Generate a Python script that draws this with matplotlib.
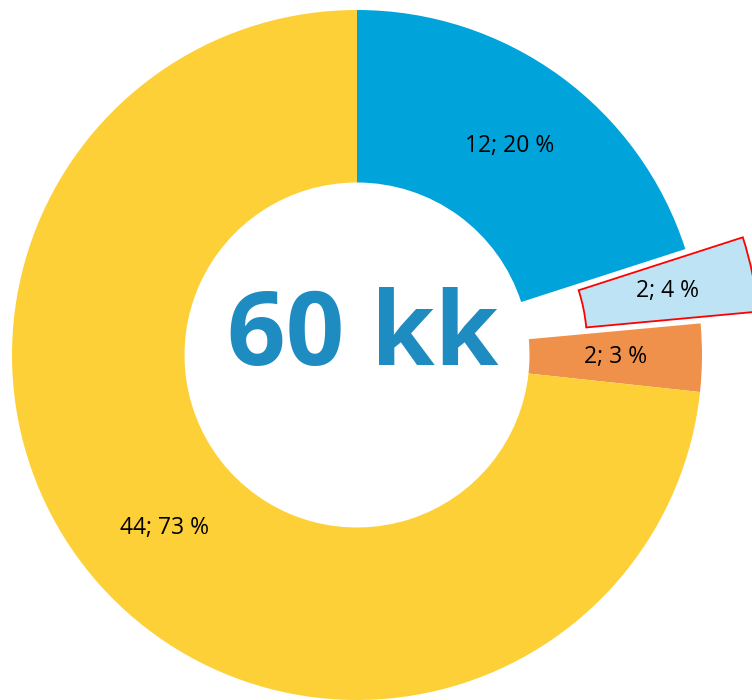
import matplotlib
matplotlib.use('Agg')
import matplotlib.pyplot as plt

# data
labels = ['A', 'B', 'C', 'D']
values = [12.0, 2.1, 1.9, 43.9]
colors = ['#00A3DA', '#BDE3F5', '#F0914B', '#FDD037']
explode = [0, 0.17, 0, 0]
center_text = '60 kk'

total = sum(values)

def fmt(pct):
    return '%.0f; %.0f %%' % (pct * total / 100.0, pct)

fig = plt.figure(figsize=(7.52, 7.0), dpi=100)
ax = fig.add_axes([0, 0, 1, 1])

wedges, texts, autotexts = ax.pie(values, colors=colors, explode=explode,
                                  startangle=90, counterclock=False,
                                  autopct=fmt, pctdistance=0.75,
                                  wedgeprops=dict(width=0.5, linewidth=0),
                                  textprops=dict(family='Open Sans', fontsize=16.5,
                                                 color='black'))

# highlighted slice
wedges[1].set_edgecolor('#FF0000')
wedges[1].set_linewidth(1.3)

ax.text(0.017, -0.029, center_text, ha='center', va='baseline',
        family='Open Sans', fontweight='bold', fontsize=74, color='#1E8CC0')

# radius 1 = 345 px, centre at (357, 355) px
ax.set_xlim(-357 / 345, (752 - 357) / 345)
ax.set_ylim(-(700 - 355) / 345, 355 / 345)
ax.set_aspect('equal')
ax.axis('off')

fig.savefig('out.png', dpi=100)
